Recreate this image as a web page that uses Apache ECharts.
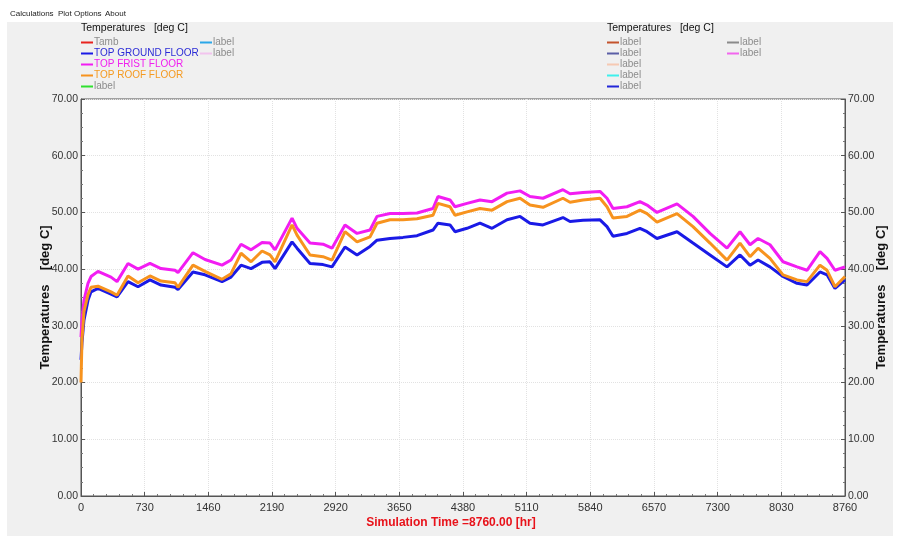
<!DOCTYPE html>
<html>
<head>
<meta charset="utf-8">
<script src="https://cdn.jsdelivr.net/npm/echarts@6/dist/echarts.min.js"></script>
<style>
  html, body { margin: 0; padding: 0; background: #fff; }
  #chart { width: 898px; height: 536px; }
</style>
</head>
<body>
<div id="chart"></div>
<script>
// simulation hours where the curves were read
const hours = [0, 11, 34, 80, 115, 195, 344, 413, 539, 654, 791, 917, 1078, 1112, 1284, 1422,
  1617, 1720, 1835, 1950, 2076, 2167, 2225, 2420, 2477, 2626, 2775, 2878, 3027, 3165, 3314,
  3394, 3543, 3692, 3853, 4036, 4093, 4231, 4288, 4426, 4575, 4713, 4885, 5034, 5148, 5297,
  5526, 5607, 5756, 5951, 6031, 6100, 6260, 6409, 6490, 6604, 6834, 7017, 7212, 7407, 7556,
  7671, 7763, 7900, 8049, 8210, 8324, 8473, 8554, 8645, 8760]

const groundFloor = [24.0, 27.0, 31.0, 34.5, 36.0, 36.6, 35.6, 35.1, 37.8, 36.9, 38.1, 37.2, 36.8, 36.4, 39.5, 39.0,
  37.8, 38.6, 40.7, 40.1, 41.2, 41.3, 40.1, 44.8, 43.7, 41.0, 40.8, 40.4, 43.9, 42.5, 44.0,
  45.1, 45.4, 45.6, 45.9, 46.9, 48.1, 47.8, 46.6, 47.2, 48.1, 47.2, 48.7, 49.3, 48.1, 47.8,
  49.1, 48.4, 48.6, 48.7, 47.5, 45.8, 46.3, 47.2, 46.6, 45.4, 46.6, 44.6, 42.5, 40.4, 42.5,
  40.7, 41.6, 40.4, 38.7, 37.5, 37.2, 39.5, 39.0, 36.6, 38.1]

const firstFloor = [28.0, 31.0, 34.5, 37.5, 38.7, 39.6, 38.6, 37.8, 41.0, 40.0, 41.0, 40.1, 39.8, 39.4, 42.9, 41.7,
  40.7, 41.6, 44.4, 43.4, 44.7, 44.6, 43.4, 49.0, 47.2, 44.6, 44.4, 43.7, 47.8, 46.3, 46.9,
  49.3, 49.8, 49.8, 49.9, 50.7, 52.8, 52.2, 51.0, 51.6, 52.2, 51.9, 53.4, 53.8, 52.8, 52.5,
  54.0, 53.3, 53.5, 53.7, 52.5, 50.7, 51.0, 51.9, 51.3, 50.0, 51.5, 49.3, 46.3, 43.7, 46.6,
  44.3, 45.4, 44.3, 41.3, 40.4, 39.8, 43.1, 41.9, 39.8, 40.4]

const roofFloor = [20.0, 27.5, 32.5, 35.5, 36.8, 37.0, 36.0, 35.4, 38.8, 37.6, 38.8, 37.9, 37.6, 36.8, 40.7, 39.6,
  38.2, 39.2, 42.8, 41.3, 43.2, 42.5, 41.3, 47.8, 46.0, 42.5, 42.2, 41.6, 46.6, 44.8, 45.7,
  48.1, 48.7, 48.7, 48.9, 49.5, 51.6, 51.0, 49.5, 50.1, 50.7, 50.4, 51.9, 52.5, 51.3, 50.9,
  52.5, 51.8, 52.2, 52.5, 51.0, 49.0, 49.3, 50.4, 49.8, 48.3, 49.8, 47.5, 44.6, 41.6, 44.6,
  42.2, 43.7, 41.9, 39.0, 38.1, 37.8, 40.7, 39.8, 36.9, 38.7]

const FONT = 'Liberation Sans, Arial, sans-serif'

function pairs(vals) {
  return hours.map((h, i) => [h, vals[i]])
}

// unused plot channels, only shown in the legends
const emptyLines = [
  { name: 'Tamb', color: '#e8231f' },
  { name: 'label_g', color: '#2fe02f' },
  { name: 'label_b', color: '#2aa7e8' },
  { name: 'label_c', color: '#f2c4ee' },
  { name: 'label_d', color: '#c4532c' },
  { name: 'label_e', color: '#5b5ea6' },
  { name: 'label_f', color: '#f6c9b2' },
  { name: 'label_h', color: '#3ef0ec' },
  { name: 'label_i', color: '#2226d8' },
  { name: 'label_j', color: '#8a8a8a' },
  { name: 'label_k', color: '#f266ee' }
]

const grey = '#8c8c8c'

function legendBlock(left, top, items) {
  return {
    left: left,
    top: top,
    orient: 'vertical',
    selectedMode: false,
    icon: 'rect',
    itemWidth: 12,
    itemHeight: 2,
    itemGap: 0,
    padding: 0,
    formatter: n => (n.indexOf('label') === 0 ? 'label' : n),
    textStyle: { fontFamily: FONT, fontSize: 10, lineHeight: 11, padding: [0, 0, 0, -4] },
    data: items.map(it => ({ name: it[0], textStyle: { color: it[1] } }))
  }
}

const menuText = (x, t) => ({
  type: 'text', left: x, top: 10,
  style: { text: t, fontFamily: FONT, fontSize: 8, fill: '#222' }
})

const titleStyle = { fontFamily: FONT, fontSize: 10.5, fontWeight: 'normal', color: '#111' }

const option = {
  animation: false,
  backgroundColor: '#ffffff',
  graphic: [
    { type: 'rect', shape: { x: 7, y: 22, width: 886, height: 514 }, style: { fill: '#f0f0f0' }, z: -10 },
    menuText(10, 'Calculations'),
    menuText(58, 'Plot Options'),
    menuText(105, 'About')
  ],
  title: [
    { text: 'Temperatures   [deg C]', left: 81, top: 23, padding: 0, textStyle: titleStyle },
    { text: 'Temperatures   [deg C]', left: 607, top: 23, padding: 0, textStyle: titleStyle }
  ],
  legend: [
    legendBlock(81, 37, [['Tamb', grey], ['TOP GROUND FLOOR', '#2b2bd6'], ['TOP FRIST FLOOR', '#f020f0'],
      ['TOP ROOF FLOOR', '#f59a20'], ['label_g', grey]]),
    legendBlock(200, 37, [['label_b', grey], ['label_c', grey]]),
    legendBlock(607, 37, [['label_d', grey], ['label_e', grey], ['label_f', grey], ['label_h', grey], ['label_i', grey]]),
    legendBlock(727, 37, [['label_j', grey], ['label_k', grey]])
  ],
  grid: {
    left: 81, right: 53, top: 99, bottom: 40,
    outerBoundsMode: 'none',
    containLabel: false,
    show: true, backgroundColor: '#ffffff', borderColor: '#555', borderWidth: 1
  },
  xAxis: {
    type: 'value',
    min: 0,
    max: 8760,
    interval: 730,
    name: 'Simulation Time =8760.00 [hr]',
    nameLocation: 'middle',
    nameGap: 21,
    nameMoveOverlap: false,
    nameTextStyle: { fontFamily: FONT, fontSize: 12, fontWeight: 'bold', color: '#e8121a', padding: [0, 24, 0, 0] },
    axisLine: { lineStyle: { color: '#555' } },
    axisTick: { inside: true, length: 4, lineStyle: { color: '#555' } },
    minorTick: { show: true, splitNumber: 5, length: 2, lineStyle: { color: '#777' } },
    axisLabel: { fontFamily: FONT, fontSize: 11, color: '#333', margin: 6, formatter: v => String(v) },
    splitLine: { show: true, lineStyle: { color: '#e2e2e2', type: 'dotted' } }
  },
  yAxis: [0, 1].map(i => ({
    type: 'value',
    position: i === 0 ? 'left' : 'right',
    min: 0,
    max: 70,
    interval: 10,
    name: 'Temperatures    [deg C]',
    nameLocation: 'middle',
    nameRotate: 90,
    nameGap: i === 0 ? 29 : 30,
    nameMoveOverlap: false,
    nameTextStyle: { fontFamily: FONT, fontSize: 13, fontWeight: 'bold', color: '#111' },
    axisLine: { show: true, lineStyle: { color: '#555' } },
    axisTick: { show: true, inside: true, length: 4, lineStyle: { color: '#555' } },
    minorTick: { show: true, splitNumber: 4, length: 2, lineStyle: { color: '#777' } },
    axisLabel: { fontFamily: FONT, fontSize: 10.5, color: '#333', margin: 3,
      formatter: v => v.toFixed(2) },
    splitLine: { show: i === 0, lineStyle: { color: '#e2e2e2', type: 'dotted' } }
  })),
  series: emptyLines.map(e => ({
    name: e.name, type: 'line', data: [], showSymbol: false,
    itemStyle: { color: e.color }, lineStyle: { color: e.color }
  })).concat([
    { name: 'TOP GROUND FLOOR', color: '#1a1ae6', data: groundFloor },
    { name: 'TOP FRIST FLOOR', color: '#f21df2', data: firstFloor },
    { name: 'TOP ROOF FLOOR', color: '#f7931e', data: roofFloor }
  ].map(s => ({
    name: s.name,
    type: 'line',
    data: pairs(s.data),
    showSymbol: false,
    itemStyle: { color: s.color },
    lineStyle: { color: s.color, width: 3 }
  })))
}

const chart = echarts.init(document.getElementById('chart'))
chart.setOption(option)
</script>
</body>
</html>
